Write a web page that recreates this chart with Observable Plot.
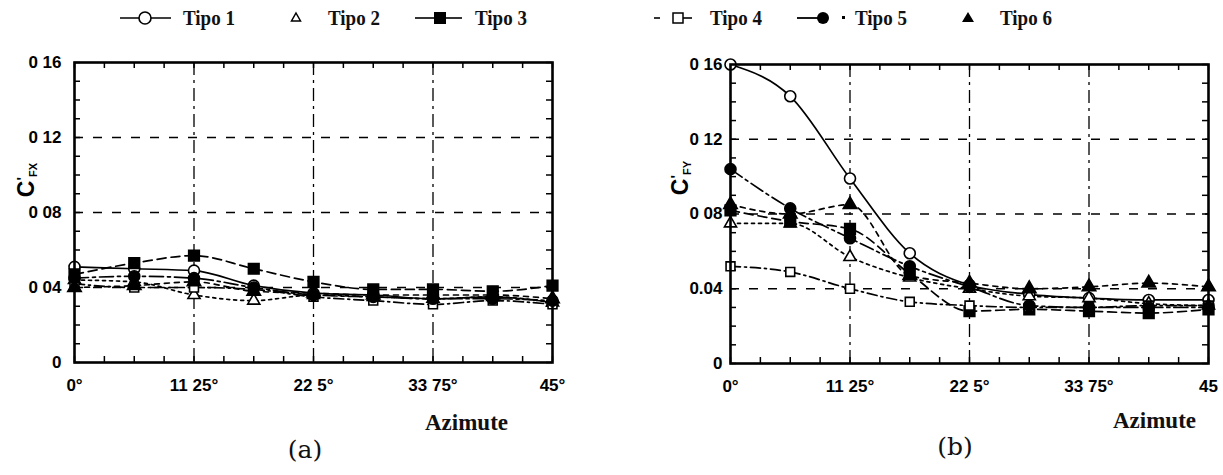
<!DOCTYPE html>
<html>
<head>
<meta charset="utf-8">
<script src="https://cdn.jsdelivr.net/npm/d3@7"></script>
<script src="https://cdn.jsdelivr.net/npm/@observablehq/plot@0.6"></script>
<style>
  html, body { margin: 0; padding: 0; background: #fff; }
  #root { position: relative; width: 1223px; height: 475px; overflow: hidden; background: #fff; }
  .abs { position: absolute; white-space: nowrap; }
  .leg { font-family: "Liberation Serif", "Times New Roman", serif; font-weight: bold; font-size: 19px; color: #111; transform: translateY(-50%) scaleY(1.15); }
  .azi { font-family: "Liberation Serif", "Times New Roman", serif; font-weight: bold; font-size: 23px; color: #111; transform: translateY(-50%); }
  .pan { font-family: "DejaVu Serif", serif; font-size: 25px; color: #111; transform: translate(-50%, -50%); }
  .ylab { font-family: "Liberation Sans", Arial, sans-serif; font-weight: bold; font-size: 23px; color: #000; transform: translate(-50%, -50%) rotate(-90deg); }
  .ylab sub { font-size: 11px; vertical-align: -3px; }
  .ylab sup { font-size: 15px; vertical-align: 7px; }
</style>
</head>
<body>
<div id="root"></div>
<script>
// ---------- data ----------
const azimute = [0, 5.625, 11.25, 16.875, 22.5, 28.125, 33.75, 39.375, 45];
const tipos = ["Tipo 1", "Tipo 2", "Tipo 3", "Tipo 4", "Tipo 5", "Tipo 6"];

// (a) C'FX
const fx_tipo1 = [0.051, 0.050, 0.049, 0.041, 0.037, 0.036, 0.034, 0.035, 0.032];
const fx_tipo2 = [0.044, 0.043, 0.036, 0.033, 0.036, 0.035, 0.034, 0.035, 0.032];
const fx_tipo3 = [0.047, 0.053, 0.057, 0.050, 0.043, 0.039, 0.039, 0.038, 0.041];
const fx_tipo4 = [0.042, 0.040, 0.040, 0.039, 0.035, 0.033, 0.031, 0.033, 0.031];
const fx_tipo5 = [0.045, 0.046, 0.045, 0.040, 0.036, 0.035, 0.034, 0.034, 0.033];
const fx_tipo6 = [0.040, 0.041, 0.043, 0.038, 0.037, 0.036, 0.036, 0.036, 0.034];

// (b) C'FY
const fy_tipo1 = [0.160, 0.143, 0.099, 0.059, 0.042, 0.037, 0.035, 0.034, 0.034];
const fy_tipo2 = [0.075, 0.075, 0.057, 0.046, 0.040, 0.036, 0.035, 0.032, 0.031];
const fy_tipo3 = [0.082, 0.076, 0.072, 0.048, 0.028, 0.029, 0.028, 0.027, 0.029];
const fy_tipo4 = [0.052, 0.049, 0.040, 0.033, 0.031, 0.030, 0.030, 0.031, 0.031];
const fy_tipo5 = [0.104, 0.083, 0.067, 0.052, 0.041, 0.031, 0.030, 0.030, 0.030];
const fy_tipo6 = [0.085, 0.080, 0.085, 0.047, 0.043, 0.040, 0.041, 0.043, 0.041];

// ticks
const xTicks = [0, 11.25, 22.5, 33.75, 45];
const xLabelsA = ["0°", "11 25°", "22 5°", "33 75°", "45°"];
const xLabelsB = ["0°", "11 25°", "22 5°", "33 75°", "45"];
const yTicks = [0, 0.04, 0.08, 0.12, 0.16];
const yLabelsA = ["0", "0 04", "0 08", "0 12", "0 16"];
const yLabelsB = ["0", "0.04", "0 08", "0 12", "0 16"];
const xMinor = [0, 2.8125, 5.625, 8.4375, 11.25, 14.0625, 16.875, 19.6875, 22.5, 25.3125, 28.125, 30.9375, 33.75, 36.5625, 39.375, 42.1875, 45];
const yMinor = [0, 0.01, 0.02, 0.03, 0.04, 0.05, 0.06, 0.07, 0.08, 0.09, 0.10, 0.11, 0.12, 0.13, 0.14, 0.15, 0.16];
const xGrid = [11.25, 22.5, 33.75];
const yGrid = [0.04, 0.08, 0.12];

// ---------- styles per series ----------
const styles = {
  "Tipo 1": {dash: null,          symbol: "circle",   fill: "white", r: 5.5},
  "Tipo 2": {dash: "3,4",         symbol: "triangle", fill: "white", r: 4.5},
  "Tipo 3": {dash: "9,5",         symbol: "square",   fill: "black", r: 6},
  "Tipo 4": {dash: "10,4,2,4",    symbol: "square",   fill: "white", r: 5},
  "Tipo 5": {dash: "14,4,3,4",    symbol: "circle",   fill: "black", r: 5.5},
  "Tipo 6": {dash: "5,5",         symbol: "triangle", fill: "black", r: 5}
};

function rows(seriesList) {
  const out = [];
  seriesList.forEach((vals, k) => vals.forEach((v, i) => out.push({tipo: tipos[k], az: azimute[i], c: v})));
  return out;
}
const dataA = rows([fx_tipo1, fx_tipo2, fx_tipo3, fx_tipo4, fx_tipo5, fx_tipo6]);
const dataB = rows([fy_tipo1, fy_tipo2, fy_tipo3, fy_tipo4, fy_tipo5, fy_tipo6]);

function panel(data, cfg) {
  const pw = cfg.width - cfg.marginLeft - cfg.marginRight;
  const ph = cfg.height - cfg.marginTop - cfg.marginBottom;
  const seriesMarks = [];
  for (const t of tipos) {
    const s = styles[t];
    const d = data.filter(r => r.tipo === t);
    seriesMarks.push(Plot.line(d, {x: "az", y: "c", stroke: "black", strokeWidth: 1.7, strokeDasharray: s.dash, curve: "monotone-x"}));
  }
  for (const t of tipos) {
    const s = styles[t];
    const d = data.filter(r => r.tipo === t);
    seriesMarks.push(Plot.dot(d, {x: "az", y: "c", symbol: () => s.symbol, r: s.r, fill: s.fill, stroke: "black", strokeWidth: 1.6}));
  }
  return Plot.plot({
    width: cfg.width, height: cfg.height,
    marginLeft: cfg.marginLeft, marginRight: cfg.marginRight, marginTop: cfg.marginTop, marginBottom: cfg.marginBottom,
    x: {domain: [0, 45], axis: null},
    y: {domain: [0, 0.16], axis: null},
    symbol: {type: "identity"},
    style: {background: "transparent", fontFamily: "Liberation Sans, Arial, sans-serif", overflow: "visible"},
    marks: [
      Plot.ruleY(yGrid, {y: d => d, stroke: "black", strokeWidth: 1.3, strokeDasharray: "9,10"}),
      Plot.ruleX(xGrid, {x: d => d, stroke: "black", strokeWidth: 1.3, strokeDasharray: "13,5,3,5"}),
      Plot.tickX(xMinor, {x: d => d, insetTop: ph - 6, stroke: "black", strokeWidth: 1.5}),
      Plot.tickX(xMinor, {x: d => d, insetBottom: ph - 6, stroke: "black", strokeWidth: 1.5}),
      Plot.tickY(yMinor, {y: d => d, insetRight: pw - 6, stroke: "black", strokeWidth: 1.5}),
      Plot.tickY(yMinor, {y: d => d, insetLeft: pw - 6, stroke: "black", strokeWidth: 1.5}),
      ...seriesMarks,
      Plot.frame({stroke: "black", strokeWidth: 2.6}),
      Plot.axisX(xTicks, {tickSize: 0, tickPadding: cfg.xPad, tickFormat: d => cfg.xLabels[xTicks.indexOf(d)], fontSize: 17, fontWeight: "bold", fill: "black", label: null}),
      Plot.axisY(yTicks, {tickSize: 0, tickPadding: cfg.yPad, tickFormat: d => cfg.yLabels[yTicks.indexOf(d)], fontSize: 17, fontWeight: "bold", fill: "black", label: null})
    ]
  });
}

const root = document.getElementById("root");

const svgA = panel(dataA, {width: 600, height: 400, marginLeft: 74, marginRight: 48, marginTop: 22, marginBottom: 78, xPad: 16, yPad: 13, xLabels: xLabelsA, yLabels: yLabelsA});
svgA.style.position = "absolute"; svgA.style.left = "0px"; svgA.style.top = "40px";
root.appendChild(svgA);

const svgB = panel(dataB, {width: 603, height: 400, marginLeft: 110, marginRight: 15, marginTop: 24, marginBottom: 77, xPad: 16, yPad: 8, xLabels: xLabelsB, yLabels: yLabelsB});
svgB.style.position = "absolute"; svgB.style.left = "620px"; svgB.style.top = "40px";
root.appendChild(svgB);

function addText(cls, html, x, y) {
  const d = document.createElement("div");
  d.className = "abs " + cls;
  d.innerHTML = html;
  d.style.left = x + "px"; d.style.top = y + "px";
  root.appendChild(d);
  return d;
}

// axis titles
addText("ylab", "C<sup>'</sup><sub>FX</sub>", 26, 180);
addText("ylab", "C<sup>'</sup><sub>FY</sub>", 680, 178);
addText("azi", "Azimute", 425, 423);
addText("azi", "Azimute", 1113, 421);
addText("pan", "(a)", 305, 449);
addText("pan", "(b)", 955, 446);

// legend
const legend = [
  {t: "Tipo 1", text: 183, svg: '<line x1="120" y1="18" x2="171" y2="18" stroke="black" stroke-width="1.6"/><circle cx="145" cy="18" r="6" fill="white" stroke="black" stroke-width="1.6"/>'},
  {t: "Tipo 2", text: 328, svg: '<path d="M296,13 L300.5,21 L291.5,21 Z" fill="white" stroke="black" stroke-width="1.5"/>'},
  {t: "Tipo 3", text: 475, svg: '<line x1="415" y1="18" x2="434" y2="18" stroke="black" stroke-width="1.6"/><line x1="446" y1="18" x2="462" y2="18" stroke="black" stroke-width="1.6"/><rect x="434" y="12" width="12" height="12" fill="black"/>'},
  {t: "Tipo 4", text: 710, svg: '<line x1="654" y1="18" x2="660" y2="18" stroke="black" stroke-width="1.6"/><rect x="673" y="13" width="10" height="10" fill="white" stroke="black" stroke-width="1.5"/><line x1="683" y1="18" x2="692" y2="18" stroke="black" stroke-width="1.6"/>'},
  {t: "Tipo 5", text: 855, svg: '<line x1="797" y1="18" x2="818" y2="18" stroke="black" stroke-width="1.8"/><circle cx="823" cy="18" r="6" fill="black"/><rect x="842" y="16" width="3" height="3" fill="black"/>'},
  {t: "Tipo 6", text: 1000, svg: '<path d="M968,12 L974,22 L962,22 Z" fill="black"/>'}
];
const ns = "http://www.w3.org/2000/svg";
const legSvg = document.createElementNS(ns, "svg");
legSvg.setAttribute("width", 1223); legSvg.setAttribute("height", 40);
legSvg.style.position = "absolute"; legSvg.style.left = "0px"; legSvg.style.top = "0px";
legSvg.innerHTML = legend.map(l => l.svg).join("");
root.appendChild(legSvg);
legend.forEach(l => addText("leg", l.t, l.text, 18));
</script>
</body>
</html>
